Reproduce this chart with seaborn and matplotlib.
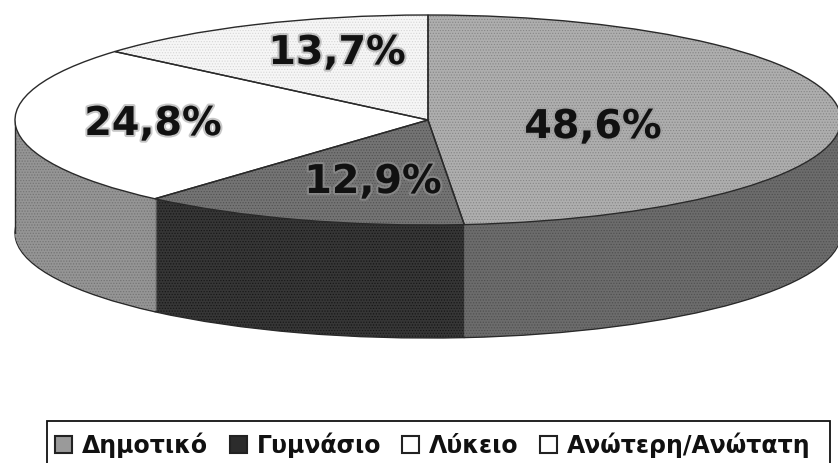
import matplotlib
matplotlib.use('Agg')
import matplotlib.pyplot as plt
import matplotlib.patheffects as pe
from matplotlib.patches import Patch, Rectangle
import seaborn as sns

# Data
levels = ['Δημοτικό', 'Γυμνάσιο', 'Λύκειο', 'Ανώτερη/Ανώτατη']
shares = [48.6, 12.9, 24.8, 13.7]
share_labels = ['48,6%', '12,9%', '24,8%', '13,7%']

# Slice styling (top face, side wall, hatch dots)
top_colors = ['#aeaeae', '#747474', '#ffffff', '#f6f6f6']
side_colors = ['#6c6c6c', '#363636', '#959595', '#959595']
dot_colors = ['#858585', '#505050', '#ffffff', '#d6d6d6']
side_dots = ['#4c4c4c', '#121212', '#6e6e6e', '#6e6e6e']
legend_colors = ['#9a9a9a', '#2c2c2c', '#ffffff', '#ffffff']

sns.set_theme(style='white')
plt.rcParams['font.family'] = ['DejaVu Sans']
plt.rcParams['hatch.linewidth'] = 0.5

W, H = 838, 463
CX, CY = 428, 120      # pie centre in pixels
RX, RY = 413, 105      # ellipse radii in pixels
DEPTH = 113            # height of the side wall in pixels


def to_data(px, py):
    return (px - CX) / RX, (CY - py) / RY


def draw_pie(ax, center, colors, dots, edge=False, zorder=1.0, edge_z=0.005):
    wedges, _ = ax.pie(shares, colors=colors, startangle=90, counterclock=False,
                       center=center, radius=1, normalize=True)
    for w, c, d in zip(wedges, colors, dots):
        w.set_zorder(zorder)
        w.set_facecolor(c)
        w.set_edgecolor(d)
        w.set_hatch('......')
        w.set_linewidth(0)
    if edge:
        # outline goes on separate copies, the hatch takes the edge colour
        outline, _ = ax.pie(shares, colors=['none'] * len(shares), startangle=90,
                            counterclock=False, center=center, radius=1, normalize=True,
                            wedgeprops={'linewidth': 1.0, 'edgecolor': '#2a2a2a'})
        for w in outline:
            w.set_zorder(zorder + edge_z)
    return wedges


fig = plt.figure(figsize=(W / 100, H / 100), dpi=100, facecolor='white')
ax = fig.add_axes([0, 0, 1, 1])

# side wall: the same pie stacked from the bottom up
for d in range(DEPTH, 0, -1):
    draw_pie(ax, (0, -d / RY), side_colors, side_dots, edge=(d == DEPTH), zorder=2 + (DEPTH - d) * 0.01)

# left edge of the wall
x0, y0 = to_data(CX - RX, CY)
x1, y1 = to_data(CX - RX, CY + DEPTH)
ax.plot([x0, x1], [y0, y1], color='#2a2a2a', lw=1, zorder=5)

draw_pie(ax, (0, 0), top_colors, dot_colors, edge=True, zorder=6, edge_z=0.5)

ax.set_aspect('auto')
ax.set_xlim(-CX / RX, (W - CX) / RX)
ax.set_ylim((CY - H) / RY, CY / RY)
ax.axis('off')

# percentage labels, pixel anchors by eye
label_pos = [(593, 127), (373, 182), (153, 124), (337, 53)]
for text, (px, py) in zip(share_labels, label_pos):
    lx, ly = to_data(px, py)
    ax.text(lx, ly, text, ha='center', va='center', fontsize=28.5, fontweight='bold',
            color='#111111', zorder=10,
            path_effects=[pe.withStroke(linewidth=3, foreground='#9a9a9a', alpha=0.55)])

handles = [Patch(facecolor=c, edgecolor='#222222', linewidth=1.5) for c in legend_colors]
leg = fig.legend(handles, levels, ncol=4, loc='center left', bbox_to_anchor=(47 / W, 1 - 445 / H),
                 frameon=False, prop={'weight': 'bold', 'size': 17}, handlelength=0.72,
                 handleheight=0.72, handletextpad=0.42, columnspacing=0.9,
                 borderpad=0.35, borderaxespad=0)
for t in leg.get_texts():
    t.set_color('#111111')

# legend box runs off the bottom of the picture
fig.add_artist(Rectangle((47 / W, -0.02), (830 - 47) / W, 0.02 + 1 - 421 / H, transform=fig.transFigure,
                         facecolor='none', edgecolor='#111111', linewidth=1.3))

fig.savefig('out.png', dpi=100)
